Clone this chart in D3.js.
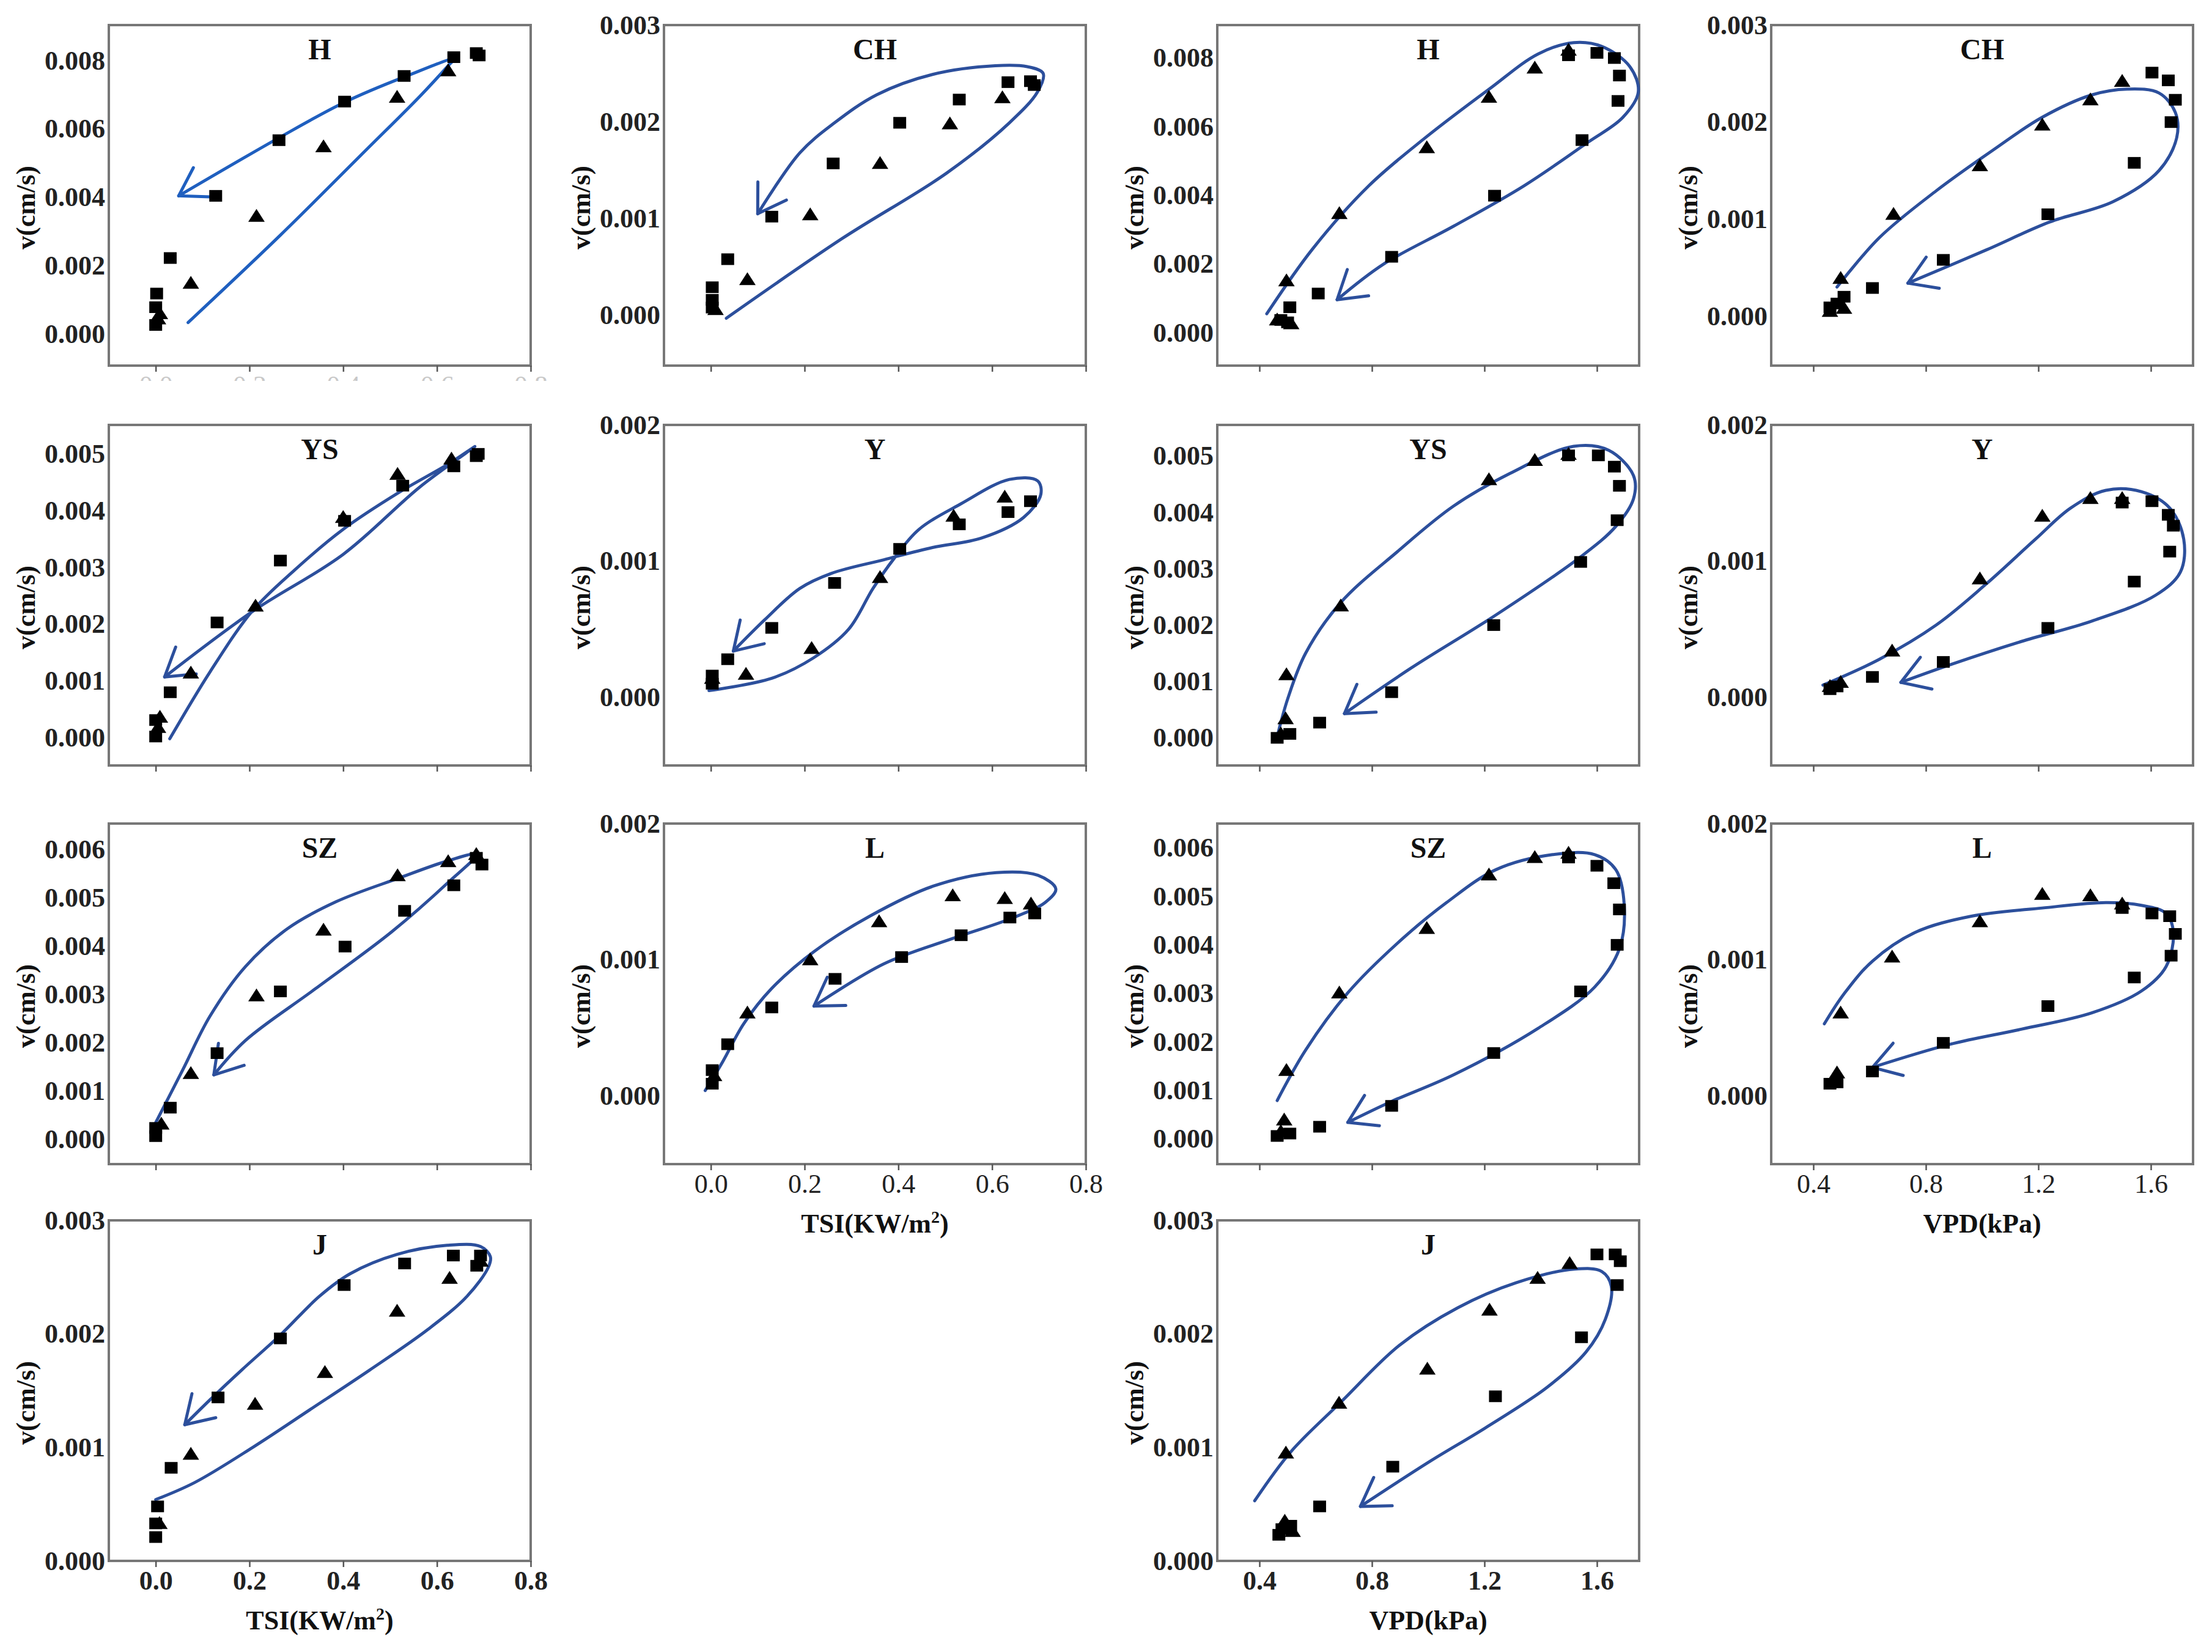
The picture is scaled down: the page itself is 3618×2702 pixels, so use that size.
<!DOCTYPE html>
<html>
<head>
<meta charset="utf-8">
<script src="https://cdn.jsdelivr.net/npm/d3@7"></script>
<style>body{margin:0;background:#fff}</style>
</head>
<body>
<div id="chart"></div>
<script>
// ---- data: [x, v(cm/s)] ----
// squares, triangles and the hand-drawn hysteresis loop for each panel
const tsiH_sq = [[0.684,0.00822],[0.69,0.00815],[0.636,0.0081],[0.53,0.00755],[0.403,0.0068],[0.263,0.00567],[0.128,0.00404],[0.031,0.00222],[0.002,0.00118],[0.0,0.00078],[0.0,0.00026]];
const tsiH_tri = [[0.624,0.0077],[0.515,0.00693],[0.358,0.00548],[0.215,0.00344],[0.075,0.00148],[0.009,0.00059],[0.005,0.00044]];
const tsiH_loop = [[0.069,0.00033],[0.266,0.00289],[0.445,0.00533],[0.564,0.00696],[0.624,0.00785],[0.636,0.00804],[0.53,0.00752],[0.403,0.00678],[0.263,0.00574],[0.049,0.00404]];

const tsiCH_sq = [[0.682,0.00242],[0.69,0.00238],[0.634,0.00241],[0.53,0.00223],[0.403,0.00199],[0.261,0.00157],[0.13,0.00102],[0.036,0.00058],[0.003,0.00029],[0.003,0.00016],[0.003,0.00008]];
const tsiCH_tri = [[0.622,0.00225],[0.51,0.00198],[0.361,0.00157],[0.212,0.00104],[0.078,0.00037],[0.01,0.00006]];
const tsiCH_loop = [[0.033,-0.00003],[0.279,0.00079],[0.503,0.00147],[0.637,0.00199],[0.697,0.00231],[0.709,0.0025],[0.675,0.00257],[0.607,0.00258],[0.473,0.00249],[0.354,0.00228],[0.264,0.00199],[0.19,0.00168],[0.1,0.00105]];

const vpdH_sq = [[1.499,0.00808],[1.6,0.00815],[1.662,0.008],[1.68,0.00749],[1.675,0.00675],[1.547,0.00561],[1.236,0.00399],[0.87,0.00221],[0.609,0.00114],[0.508,0.00074],[0.476,0.00037],[0.5,0.0003]];
const vpdH_tri = [[1.499,0.00823],[1.379,0.00771],[1.216,0.00686],[0.995,0.00539],[0.684,0.00347],[0.496,0.00151],[0.463,0.00037],[0.513,0.00026]];
const vpdH_loop = [[0.426,0.00055],[0.589,0.00244],[0.789,0.00428],[0.99,0.00568],[1.216,0.00709],[1.391,0.00812],[1.517,0.00845],[1.617,0.00834],[1.717,0.00775],[1.747,0.00701],[1.692,0.00627],[1.567,0.00554],[1.341,0.00428],[1.09,0.0031],[0.84,0.00199],[0.676,0.00096]];

const vpdCH_sq = [[1.604,0.00251],[1.662,0.00243],[1.687,0.00223],[1.672,0.002],[1.541,0.00158],[1.234,0.00105],[0.862,0.00058],[0.61,0.00029],[0.509,0.0002],[0.484,0.00013],[0.459,0.00009]];
const vpdCH_tri = [[1.498,0.00242],[1.385,0.00223],[1.214,0.00197],[0.992,0.00155],[0.685,0.00105],[0.497,0.00039],[0.509,0.00008],[0.459,0.00005]];
const vpdCH_loop = [[0.484,0.0003],[0.635,0.00081],[0.836,0.00129],[1.038,0.00171],[1.214,0.00205],[1.39,0.00228],[1.516,0.00234],[1.629,0.0023],[1.687,0.0021],[1.692,0.00184],[1.629,0.0015],[1.466,0.00118],[1.24,0.00097],[1.013,0.00068],[0.736,0.00034]];

const tsiYS_sq = [[0.688,0.005],[0.684,0.00496],[0.636,0.00478],[0.527,0.00444],[0.403,0.00382],[0.266,0.00312],[0.131,0.00203],[0.031,0.0008],[0.0,0.00031],[0.0,0.00002]];
const tsiYS_tri = [[0.631,0.00491],[0.516,0.00464],[0.4,0.00388],[0.213,0.00232],[0.075,0.00114],[0.009,0.00036],[0.005,0.00018]];
const tsiYS_loop = [[0.03,-0.00002],[0.116,0.00116],[0.206,0.00223],[0.296,0.00295],[0.4,0.00367],[0.519,0.00432],[0.624,0.00482],[0.681,0.00513],[0.564,0.00442],[0.4,0.00323],[0.206,0.00222],[0.019,0.00107]];

const tsiY_sq = [[0.682,0.00144],[0.634,0.00136],[0.53,0.00127],[0.403,0.00109],[0.264,0.00084],[0.13,0.00051],[0.036,0.00028],[0.003,0.00016],[0.003,0.0001]];
const tsiY_tri = [[0.627,0.00147],[0.518,0.00133],[0.361,0.00088],[0.215,0.00036],[0.075,0.00017],[0.003,0.00014]];
const tsiY_loop = [[-0.004,0.00005],[0.13,0.00014],[0.219,0.00029],[0.294,0.0005],[0.346,0.0008],[0.391,0.00102],[0.443,0.00123],[0.533,0.00142],[0.637,0.0016],[0.697,0.00159],[0.704,0.00149],[0.667,0.00132],[0.578,0.00117],[0.473,0.0011],[0.369,0.00101],[0.257,0.00091],[0.19,0.0008],[0.115,0.00057],[0.048,0.00034]];

const vpdYS_sq = [[1.499,0.00501],[1.605,0.00501],[1.662,0.00481],[1.68,0.00447],[1.672,0.00386],[1.542,0.00312],[1.233,0.002],[0.87,0.00081],[0.614,0.00027],[0.508,0.00007],[0.463,0.0]];
const vpdYS_tri = [[1.499,0.00503],[1.379,0.00492],[1.216,0.00458],[0.689,0.00234],[0.496,0.00112],[0.493,0.00034],[0.476,0.00007]];
const vpdYS_loop = [[0.463,0.00002],[0.501,0.0007],[0.564,0.0015],[0.689,0.0024],[0.89,0.0033],[1.09,0.00411],[1.291,0.00469],[1.517,0.00517],[1.642,0.0051],[1.73,0.00465],[1.73,0.00424],[1.667,0.00375],[1.542,0.00321],[1.241,0.00218],[0.94,0.00124],[0.702,0.00043]];

const vpdY_sq = [[1.498,0.00143],[1.604,0.00144],[1.662,0.00134],[1.68,0.00126],[1.667,0.00107],[1.541,0.00085],[1.234,0.00051],[0.862,0.00026],[0.61,0.00015],[0.484,0.00008],[0.459,0.00006]];
const vpdY_tri = [[1.498,0.00146],[1.385,0.00146],[1.214,0.00133],[0.992,0.00087],[0.68,0.00034],[0.497,0.00011],[0.459,0.00008]];
const vpdY_loop = [[0.434,0.00009],[0.635,0.00028],[0.836,0.00053],[1.013,0.00083],[1.189,0.00116],[1.315,0.00139],[1.44,0.00152],[1.566,0.00151],[1.667,0.00139],[1.717,0.00116],[1.705,0.00092],[1.617,0.00075],[1.39,0.00056],[1.139,0.00041],[0.887,0.00024],[0.711,0.00011]];

const tsiSZ_sq = [[0.696,0.00569],[0.684,0.00583],[0.636,0.00526],[0.531,0.00473],[0.404,0.00399],[0.266,0.00306],[0.131,0.00178],[0.031,0.00065],[0.0,0.00023],[0.0,0.00006]];
const tsiSZ_tri = [[0.684,0.0059],[0.624,0.00575],[0.516,0.00546],[0.358,0.00433],[0.215,0.00297],[0.075,0.00136],[0.012,0.00031]];
const tsiSZ_loop = [[0.0,0.00034],[0.057,0.00142],[0.116,0.00255],[0.191,0.00357],[0.281,0.00436],[0.385,0.00492],[0.519,0.00541],[0.624,0.00577],[0.684,0.0059],[0.624,0.00532],[0.504,0.0043],[0.34,0.00311],[0.191,0.00204],[0.124,0.00133]];

const tsiL_sq = [[0.691,0.00134],[0.638,0.00131],[0.534,0.00118],[0.407,0.00102],[0.265,0.00086],[0.13,0.00065],[0.036,0.00038],[0.003,0.00019],[0.003,0.00009]];
const tsiL_tri = [[0.683,0.00141],[0.627,0.00145],[0.516,0.00147],[0.359,0.00128],[0.212,0.001],[0.078,0.00061],[0.007,0.00015]];
const tsiL_loop = [[-0.012,0.00004],[0.025,0.00025],[0.07,0.00053],[0.13,0.00079],[0.22,0.00106],[0.339,0.00132],[0.474,0.00154],[0.609,0.00164],[0.698,0.00162],[0.736,0.00152],[0.713,0.00142],[0.638,0.0013],[0.519,0.00116],[0.369,0.00097],[0.22,0.00066]];

const vpdSZ_sq = [[1.499,0.0058],[1.6,0.00563],[1.66,0.00527],[1.68,0.00473],[1.672,0.004],[1.542,0.00304],[1.233,0.00177],[0.87,0.00068],[0.614,0.00025],[0.508,0.00011],[0.463,0.00006]];
const vpdSZ_tri = [[1.499,0.00589],[1.379,0.0058],[1.216,0.00544],[0.995,0.00434],[0.684,0.00301],[0.496,0.00141],[0.488,0.00039],[0.476,0.00015]];
const vpdSZ_loop = [[0.463,0.00079],[0.564,0.00183],[0.714,0.00301],[0.89,0.00403],[1.065,0.00487],[1.241,0.00555],[1.442,0.00586],[1.592,0.00586],[1.667,0.00555],[1.697,0.00482],[1.68,0.00392],[1.592,0.00313],[1.391,0.00228],[1.09,0.00132],[0.865,0.00076],[0.714,0.00034]];

const vpdL_sq = [[1.498,0.00138],[1.604,0.00134],[1.667,0.00132],[1.687,0.00119],[1.672,0.00103],[1.541,0.00087],[1.234,0.00066],[0.862,0.00039],[0.61,0.00018],[0.484,0.0001],[0.459,0.00009]];
const vpdL_tri = [[1.498,0.00141],[1.385,0.00147],[1.214,0.00148],[0.992,0.00128],[0.68,0.00102],[0.497,0.00061],[0.484,0.00017]];
const vpdL_loop = [[0.439,0.00053],[0.509,0.00075],[0.61,0.00099],[0.761,0.0012],[0.962,0.00132],[1.214,0.00138],[1.44,0.00142],[1.566,0.0014],[1.654,0.00134],[1.68,0.0012],[1.654,0.00095],[1.566,0.00077],[1.39,0.00061],[1.139,0.00049],[0.887,0.00038],[0.61,0.00021]];

const tsiJ_sq = [[0.693,0.00269],[0.685,0.0026],[0.635,0.00269],[0.531,0.00262],[0.402,0.00243],[0.266,0.00196],[0.133,0.00144],[0.033,0.00082],[0.004,0.00048],[0.0,0.00033],[0.0,0.00021]];
const tsiJ_tri = [[0.693,0.00264],[0.627,0.00249],[0.515,0.0022],[0.361,0.00166],[0.212,0.00138],[0.075,0.00094],[0.008,0.00033]];
const tsiJ_loop = [[0.0,0.00054],[0.083,0.00069],[0.207,0.001],[0.332,0.00134],[0.456,0.00168],[0.581,0.00204],[0.664,0.00233],[0.71,0.00259],[0.714,0.00268],[0.693,0.00277],[0.622,0.00278],[0.515,0.0027],[0.415,0.00253],[0.349,0.00233],[0.266,0.00199],[0.183,0.00168],[0.116,0.00142],[0.062,0.0012]];

const vpdJ_sq = [[1.6,0.0027],[1.665,0.0027],[1.683,0.00264],[1.672,0.00243],[1.545,0.00197],[1.239,0.00145],[0.874,0.00083],[0.614,0.00048],[0.511,0.00031],[0.48,0.00028],[0.469,0.00023]];
const vpdJ_tri = [[1.503,0.00262],[1.389,0.00249],[1.218,0.00221],[0.997,0.00169],[0.683,0.00139],[0.494,0.00095],[0.49,0.00035],[0.518,0.00026]];
const vpdJ_loop = [[0.383,0.00053],[0.511,0.00096],[0.69,0.0014],[0.898,0.0019],[1.105,0.00223],[1.312,0.00245],[1.52,0.00257],[1.617,0.00255],[1.651,0.00242],[1.63,0.00213],[1.561,0.00184],[1.423,0.00153],[1.202,0.00117],[1.008,0.00088],[0.759,0.00048]];

// panel order: row by row, left to right
const panelNames = ["H","CH","H","CH","YS","Y","YS","Y","SZ","L","SZ","L","J","J"];
const panelVars  = ["TSI","TSI","VPD","VPD","TSI","TSI","VPD","VPD","TSI","TSI","VPD","VPD","TSI","VPD"];
const yBottoms = [-0.00093,-0.00052,-0.00096,-0.00051,-0.00049,-0.0005,-0.00049,-0.0005,-0.00052,-0.0005,-0.00052,-0.0005,0,0];
const yTops    = [0.00904,0.003,0.00896,0.003,0.00551,0.002,0.00555,0.002,0.00654,0.002,0.0065,0.002,0.003,0.003];
const yTickMax = [0.008,0.003,0.008,0.003,0.005,0.002,0.005,0.002,0.006,0.002,0.006,0.002,0.003,0.003];
const yTickStep= [0.002,0.001,0.002,0.001,0.001,0.001,0.001,0.001,0.001,0.001,0.001,0.001,0.001,0.001];
const tsiTicks = [0.0,0.2,0.4,0.6,0.8];
const vpdTicks = [0.4,0.8,1.2,1.6];
const tsiDomain = [-0.1,0.8];
const vpdDomain = [0.25,1.75];

const sqSets   = [tsiH_sq,tsiCH_sq,vpdH_sq,vpdCH_sq,tsiYS_sq,tsiY_sq,vpdYS_sq,vpdY_sq,tsiSZ_sq,tsiL_sq,vpdSZ_sq,vpdL_sq,tsiJ_sq,vpdJ_sq];
const triSets  = [tsiH_tri,tsiCH_tri,vpdH_tri,vpdCH_tri,tsiYS_tri,tsiY_tri,vpdYS_tri,vpdY_tri,tsiSZ_tri,tsiL_tri,vpdSZ_tri,vpdL_tri,tsiJ_tri,vpdJ_tri];
const loopSets = [tsiH_loop,tsiCH_loop,vpdH_loop,vpdCH_loop,tsiYS_loop,tsiY_loop,vpdYS_loop,vpdY_loop,tsiSZ_loop,tsiL_loop,vpdSZ_loop,vpdL_loop,tsiJ_loop,vpdJ_loop];

// layout
const W = 3618, H = 2702;
const colX = [178,1086,1991,2897], rowY = [41,695,1347,1996];
const pw = 690, ph = 557;
const gridRow = [0,0,0,0,1,1,1,1,2,2,2,2,3,3];
const gridCol = [0,1,2,3,0,1,2,3,0,1,2,3,0,2];
const xLabelMode = ["ghost","none","none","none","none","none","none","none","none","plain","none","plain","bold","bold"];
const FONT = "'Liberation Serif','Times New Roman',serif";

const svg = d3.select("#chart").append("svg").attr("width", W).attr("height", H);
svg.append("rect").attr("width", W).attr("height", H).attr("fill", "#fff");
svg.append("defs").append("clipPath").attr("id", "ghostClip")
  .append("rect").attr("x", -100).attr("y", 14).attr("width", pw + 200).attr("height", 11);

panelNames.forEach((name, i) => {
  const isTSI = panelVars[i] === "TSI";
  const g = svg.append("g").attr("transform", `translate(${colX[gridCol[i]]},${rowY[gridRow[i]]})`);
  const x = d3.scaleLinear().domain(isTSI ? tsiDomain : vpdDomain).range([0, pw]);
  const y = d3.scaleLinear().domain([yBottoms[i], yTops[i]]).range([ph, 0]);
  const mode = xLabelMode[i];
  const lineColor = i === 0 ? "#1f5fbf" : "#2c4f9c";

  // frame
  g.append("rect").attr("width", pw).attr("height", ph)
    .attr("fill", "none").attr("stroke", "#777").attr("stroke-width", 4);

  // x axis
  const xt = isTSI ? tsiTicks : vpdTicks;
  const showX = mode === "plain" || mode === "bold";
  const xa = g.append("g").attr("transform", `translate(0,${ph})`)
    .call(d3.axisBottom(x).tickValues(xt).tickSize(10).tickPadding(6)
      .tickFormat(showX ? d3.format(".1f") : () => ""));
  xa.select(".domain").remove();
  xa.selectAll("line").attr("stroke", "#555").attr("stroke-width", 2.5);
  xa.selectAll("text").attr("font-family", FONT).attr("font-size", 44)
    .attr("font-weight", mode === "bold" ? "bold" : "normal").attr("fill", "#222");

  if (mode === "ghost") {
    const gl = g.append("g").attr("transform", `translate(0,${ph})`).attr("clip-path", "url(#ghostClip)")
      .call(d3.axisBottom(x).tickValues(xt).tickSize(10).tickPadding(6).tickFormat(d3.format(".1f")));
    gl.select(".domain").remove();
    gl.selectAll("line").remove();
    gl.selectAll("text").attr("font-family", FONT).attr("font-size", 44).attr("fill", "#c8c8c8");
  }

  if (showX) {
    const tx = g.append("text").attr("font-family", FONT).attr("font-size", 44).attr("font-weight", "bold")
      .attr("text-anchor", "middle").attr("fill", "#111")
      .attr("x", pw / 2).attr("y", ph + 112);
    if (isTSI) {
      tx.append("tspan").text("TSI(KW/m");
      tx.append("tspan").attr("font-size", 28).attr("dy", -16).text("2");
      tx.append("tspan").attr("dy", 16).text(")");
    } else {
      tx.text("VPD(kPa)");
    }
  }

  // y axis
  const yt = d3.range(0, yTickMax[i] + 1e-9, yTickStep[i]);
  const ya = g.append("g")
    .call(d3.axisLeft(y).tickValues(yt).tickSize(0).tickPadding(6).tickFormat(d3.format(".3f")));
  ya.select(".domain").remove();
  ya.selectAll("text").attr("font-family", FONT).attr("font-size", 44)
    .attr("font-weight", "bold").attr("fill", "#222");

  g.append("text").attr("font-family", FONT).attr("font-size", 44).attr("font-weight", "bold")
    .attr("text-anchor", "middle").attr("fill", "#111")
    .attr("transform", `translate(${-136},${ph / 2 + 20}) rotate(-90)`)
    .attr("dy", "0.35em").text("v(cm/s)");

  // panel title
  g.append("text").attr("font-family", FONT).attr("font-size", 48).attr("font-weight", "bold")
    .attr("text-anchor", "middle").attr("fill", "#111")
    .attr("x", pw / 2).attr("y", 56).text(name);

  // hysteresis loop with open arrowhead at its end
  const line = d3.line().x(d => x(d[0])).y(d => y(d[1])).curve(d3.curveCatmullRom.alpha(0.5));
  const path = g.append("path").datum(loopSets[i]).attr("d", line)
    .attr("fill", "none").attr("stroke", lineColor).attr("stroke-width", 5)
    .attr("stroke-linecap", "round").attr("stroke-linejoin", "round");
  const node = path.node();
  const len = node.getTotalLength();
  const tip = node.getPointAtLength(len), back = node.getPointAtLength(len - 30);
  const ang = Math.atan2(back.y - tip.y, back.x - tip.x);
  const hl = 52, spread = 0.56;
  g.append("path")
    .attr("d", `M${tip.x + hl * Math.cos(ang + spread)},${tip.y + hl * Math.sin(ang + spread)}L${tip.x},${tip.y}L${tip.x + hl * Math.cos(ang - spread)},${tip.y + hl * Math.sin(ang - spread)}`)
    .attr("fill", "none").attr("stroke", lineColor).attr("stroke-width", 5)
    .attr("stroke-linecap", "round").attr("stroke-linejoin", "round");

  // markers
  g.selectAll(".sq").data(sqSets[i]).join("rect").attr("class", "sq")
    .attr("x", d => x(d[0]) - 10.5).attr("y", d => y(d[1]) - 9.5)
    .attr("width", 21).attr("height", 19).attr("fill", "#000");
  g.selectAll(".tri").data(triSets[i]).join("path").attr("class", "tri")
    .attr("transform", d => `translate(${x(d[0])},${y(d[1])})`)
    .attr("d", "M0,-12L13.5,9L-13.5,9Z").attr("fill", "#000");
});
</script>
</body>
</html>
